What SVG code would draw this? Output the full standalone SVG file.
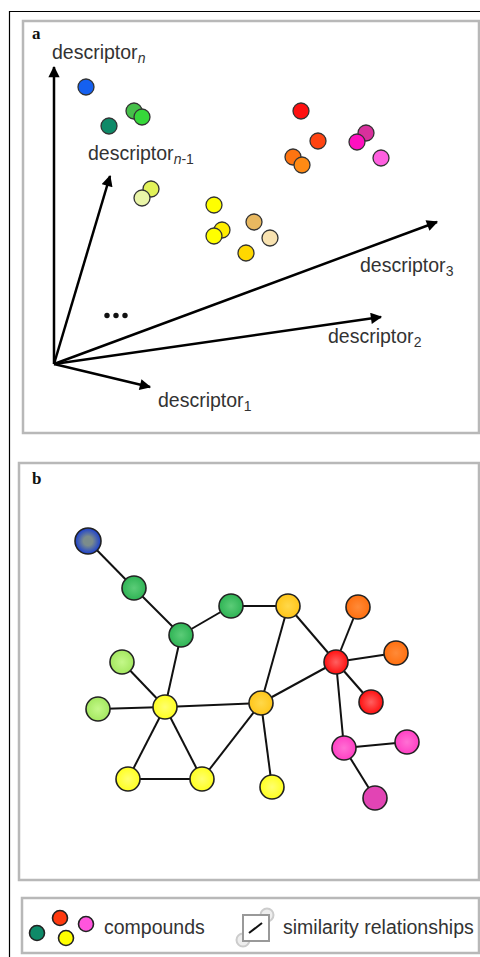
<svg xmlns="http://www.w3.org/2000/svg" width="480" height="957" viewBox="0 0 480 957">
  <defs>
    <style>
      .frame { fill: none; stroke: #b8b8b8; stroke-width: 2.5; }
      .lbl { font-family: "Liberation Serif", serif; font-weight: bold; font-size: 17px; fill: #111; }
      .txt { font-family: "Liberation Sans", Arial, sans-serif; font-size: 19.5px; fill: #333; }
      .sub { font-size: 14px; }
      .axis { stroke: #000; stroke-width: 2.5; fill: none; marker-end: url(#head); }
      .dot { stroke: #333; stroke-width: 1.3; }
      .node { stroke: #222; stroke-width: 1.6; }
      .edge { stroke: #111; stroke-width: 2; fill: none; }
    </style>
    <marker id="head" viewBox="0 0 10 10" refX="9" refY="5" markerWidth="5.5" markerHeight="4.5" orient="auto" markerUnits="strokeWidth">
      <path d="M0,0 L10,5 L0,10 Z" fill="#000"/>
    </marker>
    <radialGradient id="gBlue" cx="0.5" cy="0.5" r="0.5">
      <stop offset="0.35" stop-color="#7b8c8c"/>
      <stop offset="1" stop-color="#1a3fd0"/>
    </radialGradient>
    <radialGradient id="gGreen" cx="0.5" cy="0.5" r="0.5">
      <stop offset="0" stop-color="#5ccc78"/>
      <stop offset="1" stop-color="#2fb455"/>
    </radialGradient>
    <radialGradient id="gGold" cx="0.5" cy="0.5" r="0.5">
      <stop offset="0" stop-color="#ffd84a"/>
      <stop offset="1" stop-color="#ffc61a"/>
    </radialGradient>
    <radialGradient id="gOrange" cx="0.5" cy="0.5" r="0.5">
      <stop offset="0" stop-color="#ff8a38"/>
      <stop offset="1" stop-color="#ff7010"/>
    </radialGradient>
    <radialGradient id="gRed" cx="0.5" cy="0.5" r="0.5">
      <stop offset="0" stop-color="#ff6060"/>
      <stop offset="1" stop-color="#ff1010"/>
    </radialGradient>
    <radialGradient id="gLime" cx="0.5" cy="0.5" r="0.5">
      <stop offset="0" stop-color="#c4f88a"/>
      <stop offset="1" stop-color="#a4e860"/>
    </radialGradient>
    <radialGradient id="gYellow" cx="0.5" cy="0.5" r="0.5">
      <stop offset="0" stop-color="#ffff70"/>
      <stop offset="1" stop-color="#ffff20"/>
    </radialGradient>
    <radialGradient id="gPink" cx="0.5" cy="0.5" r="0.5">
      <stop offset="0" stop-color="#ff70d4"/>
      <stop offset="1" stop-color="#ff40c4"/>
    </radialGradient>
  </defs>

  <rect width="480" height="957" fill="#fff"/>

  <!-- outer frame (left and top edges) -->
  <path d="M9.5,957 V11.5 H480" fill="none" stroke="#000" stroke-width="1.2"/>

  <!-- ===== panel a: descriptor space ===== -->
  <g id="panel-a">
    <path class="frame" d="M481,21 H23 V433 H481"/>
    <path class="frame" d="M479,21 V433"/>
    <text class="lbl" x="32" y="39">a</text>
  </g>

  <g id="axes">
    <line class="axis" x1="54" y1="364" x2="54" y2="67"/>
    <line class="axis" x1="54" y1="364" x2="110" y2="176"/>
    <line class="axis" x1="54" y1="364" x2="437" y2="222"/>
    <line class="axis" x1="54" y1="364" x2="381" y2="317"/>
    <line class="axis" x1="54" y1="364" x2="150" y2="387"/>
  </g>

  <g id="axis-labels">
    <text class="txt" x="52" y="59">descriptor<tspan class="sub" dy="4" font-style="italic">n</tspan></text>
    <text class="txt" x="88" y="160">descriptor<tspan class="sub" dy="4"><tspan font-style="italic">n</tspan>-1</tspan></text>
    <text class="txt" x="360" y="272">descriptor<tspan class="sub" dy="4">3</tspan></text>
    <text class="txt" x="328" y="343">descriptor<tspan class="sub" dy="4">2</tspan></text>
    <text class="txt" x="158" y="407">descriptor<tspan class="sub" dy="4">1</tspan></text>
    <g id="ellipsis" fill="#111">
      <circle cx="107" cy="315.5" r="2.7"/>
      <circle cx="116" cy="315.5" r="2.7"/>
      <circle cx="125" cy="315.5" r="2.7"/>
    </g>
  </g>

  <g id="compounds-a">
    <circle class="dot" cx="86" cy="87" r="8" fill="#1560f0"/>
    <circle class="dot" cx="109" cy="126" r="8" fill="#0e8a68"/>
    <circle class="dot" cx="134" cy="111" r="8" fill="#46c04a"/>
    <circle class="dot" cx="142" cy="117" r="8" fill="#36d83a"/>
    <circle class="dot" cx="301" cy="111" r="8" fill="#ff1010"/>
    <circle class="dot" cx="318" cy="141" r="8" fill="#ff4412"/>
    <circle class="dot" cx="293" cy="157" r="8" fill="#ff7410"/>
    <circle class="dot" cx="302" cy="165" r="8" fill="#ff8a14"/>
    <circle class="dot" cx="366" cy="133" r="8" fill="#d8309c"/>
    <circle class="dot" cx="357" cy="142" r="8" fill="#ff10c0"/>
    <circle class="dot" cx="381" cy="158" r="8" fill="#ff60e0"/>
    <circle class="dot" cx="151" cy="189" r="8" fill="#e2f25a"/>
    <circle class="dot" cx="142" cy="198" r="8" fill="#eaf5a8"/>
    <circle class="dot" cx="214" cy="205" r="8" fill="#ffff00"/>
    <circle class="dot" cx="254" cy="222" r="8" fill="#e8b860"/>
    <circle class="dot" cx="222" cy="230" r="8" fill="#ffee00"/>
    <circle class="dot" cx="214" cy="236" r="8" fill="#ffff00"/>
    <circle class="dot" cx="270" cy="238" r="8" fill="#f8e2b0"/>
    <circle class="dot" cx="246" cy="253" r="8" fill="#ffd800"/>
  </g>

  <!-- ===== panel b: similarity network ===== -->
  <g id="panel-b">
    <path class="frame" d="M481,463 H19 V880 H481"/>
    <path class="frame" d="M479,463 V880"/>
    <text class="lbl" x="32" y="484">b</text>
  </g>

  <g id="edges">
    <line class="edge" x1="88" y1="541" x2="134" y2="588"/>
    <line class="edge" x1="134" y1="588" x2="181" y2="635"/>
    <line class="edge" x1="181" y1="635" x2="231" y2="606"/>
    <line class="edge" x1="231" y1="606" x2="288" y2="606"/>
    <line class="edge" x1="181" y1="635" x2="165" y2="707"/>
    <line class="edge" x1="288" y1="606" x2="261" y2="703"/>
    <line class="edge" x1="288" y1="606" x2="336" y2="662"/>
    <line class="edge" x1="336" y1="662" x2="358" y2="607"/>
    <line class="edge" x1="336" y1="662" x2="396" y2="653"/>
    <line class="edge" x1="336" y1="662" x2="371" y2="702"/>
    <line class="edge" x1="336" y1="662" x2="344" y2="748"/>
    <line class="edge" x1="336" y1="662" x2="261" y2="703"/>
    <line class="edge" x1="344" y1="748" x2="407" y2="742"/>
    <line class="edge" x1="344" y1="748" x2="375" y2="798"/>
    <line class="edge" x1="122" y1="662" x2="165" y2="707"/>
    <line class="edge" x1="98" y1="709" x2="165" y2="707"/>
    <line class="edge" x1="165" y1="707" x2="261" y2="703"/>
    <line class="edge" x1="165" y1="707" x2="128" y2="779"/>
    <line class="edge" x1="165" y1="707" x2="202" y2="779"/>
    <line class="edge" x1="128" y1="779" x2="202" y2="779"/>
    <line class="edge" x1="202" y1="779" x2="261" y2="703"/>
    <line class="edge" x1="261" y1="703" x2="272" y2="787"/>
  </g>

  <g id="n-blue"><circle class="node" cx="88" cy="541" r="13" fill="url(#gBlue)"/></g>
  <g id="n-green1"><circle class="node" cx="134" cy="588" r="12" fill="url(#gGreen)"/></g>
  <g id="n-green2"><circle class="node" cx="181" cy="635" r="12" fill="url(#gGreen)"/></g>
  <g id="n-green3"><circle class="node" cx="231" cy="606" r="12" fill="url(#gGreen)"/></g>
  <g id="n-gold1"><circle class="node" cx="288" cy="606" r="12" fill="url(#gGold)"/></g>
  <g id="n-orange1"><circle class="node" cx="358" cy="607" r="12" fill="url(#gOrange)"/></g>
  <g id="n-orange2"><circle class="node" cx="396" cy="653" r="12" fill="url(#gOrange)"/></g>
  <g id="n-red1"><circle class="node" cx="336" cy="662" r="12" fill="url(#gRed)"/></g>
  <g id="n-red2"><circle class="node" cx="371" cy="702" r="12" fill="url(#gRed)"/></g>
  <g id="n-lime1"><circle class="node" cx="122" cy="662" r="12" fill="url(#gLime)"/></g>
  <g id="n-lime2"><circle class="node" cx="98" cy="709" r="12" fill="url(#gLime)"/></g>
  <g id="n-yellow1"><circle class="node" cx="165" cy="707" r="12" fill="url(#gYellow)"/></g>
  <g id="n-gold2"><circle class="node" cx="261" cy="703" r="12" fill="url(#gGold)"/></g>
  <g id="n-pink1"><circle class="node" cx="344" cy="748" r="12" fill="url(#gPink)"/></g>
  <g id="n-pink2"><circle class="node" cx="407" cy="742" r="12" fill="url(#gPink)"/></g>
  <g id="n-pink3"><circle class="node" cx="375" cy="798" r="12" fill="#e244b4"/></g>
  <g id="n-yellow2"><circle class="node" cx="128" cy="779" r="12" fill="url(#gYellow)"/></g>
  <g id="n-yellow3"><circle class="node" cx="202" cy="779" r="12" fill="url(#gYellow)"/></g>
  <g id="n-yellow4"><circle class="node" cx="272" cy="787" r="12" fill="url(#gYellow)"/></g>

  <!-- ===== legend ===== -->
  <g id="legend">
    <path class="frame" d="M481,898 H22 V953 H481"/>
    <path class="frame" d="M479,898 V953"/>
    <circle class="node" cx="37" cy="933" r="7.5" fill="#0e8a68"/>
    <circle class="node" cx="60" cy="918" r="7.5" fill="#ff3a10"/>
    <circle class="node" cx="66" cy="938" r="7.5" fill="#ffff00"/>
    <circle class="node" cx="86" cy="924" r="7.5" fill="#ff55dd"/>
    <text class="txt" x="104" y="934">compounds</text>
    <g id="legend-edge-icon">
      <circle cx="267" cy="915" r="6.5" fill="#eee" stroke="#ccc" stroke-width="2"/>
      <circle cx="243" cy="940" r="6.5" fill="#eee" stroke="#ccc" stroke-width="2"/>
      <rect x="243" y="915" width="26" height="26" fill="#fff" stroke="#999" stroke-width="2"/>
      <line x1="249" y1="933" x2="262" y2="923" stroke="#111" stroke-width="2"/>
    </g>
    <text class="txt" x="283" y="934">similarity relationships</text>
  </g>
</svg>
